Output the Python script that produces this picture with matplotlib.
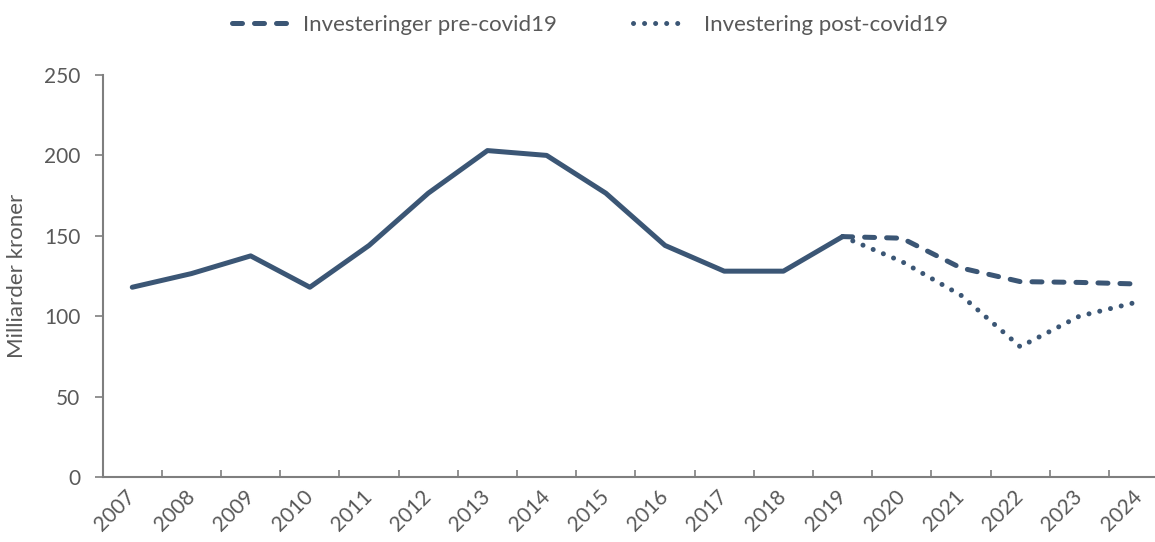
import numpy as np
import matplotlib.pyplot as plt

# data
years = [str(y) for y in range(2007, 2025)]
historisk = [118, 126.5, 137.5, 118, 144, 176.5, 203, 200, 176.5, 144, 128, 128, 149.5]
pre_covid = [149.5, 148.5, 130, 121.5, 121, 120]
post_covid = [149.5, 134, 113, 81, 100, 109]

colour = "#3b5675"
grey = "#595959"
plt.rcParams['font.family'] = ['Lato', 'DejaVu Sans']

fig = plt.figure(figsize=(11.55, 5.42), dpi=100)
# the plot area runs slightly past the right edge of the picture, as in the original
ax = fig.add_axes([0.0889, 0.120, 0.9225, 0.7416])

x = np.arange(len(years))
ax.plot(x[:len(historisk)], historisk, color=colour, lw=3.6, solid_capstyle='round',
        solid_joinstyle='round', clip_on=False)
xf = x[len(historisk) - 1:]
ax.plot(xf, pre_covid, color=colour, lw=3.6, linestyle=(0, (2.0, 2.4)),
        dash_capstyle='round', label='Investeringer pre-covid19')
ax.plot(xf, post_covid, color=colour, lw=3.6, linestyle=(0, (0.01, 2.2)),
        dash_capstyle='round', label='Investering post-covid19')

ax.set_xlim(-0.5, len(years) - 0.5)
ax.set_ylim(0, 250)
ax.set_yticks(range(0, 251, 50))

# category boundaries carry the tick marks, centres carry the labels
ax.set_xticks(np.arange(-0.5, len(years) + 0.5, 1))
ax.set_xticklabels([])
ax.tick_params(axis='x', which='major', direction='in', length=5, color='#7f7f7f', width=1.2)
ax.set_xticks(x, minor=True)
ax.set_xticklabels(years, minor=True, rotation=45)
ax.tick_params(axis='x', which='minor', length=0, pad=12, labelsize=15, labelcolor=grey)
for lbl in ax.get_xticklabels(minor=True):
    lbl.set_rotation_mode('anchor')
    lbl.set_ha('right')
    lbl.set_va('center')
ax.tick_params(axis='y', direction='out', length=6, color='#7f7f7f', width=1.2,
               labelsize=15, labelcolor=grey, pad=10)

for side in ['top', 'right']:
    ax.spines[side].set_visible(False)
for side in ['left', 'bottom']:
    ax.spines[side].set_color('#7f7f7f')
    ax.spines[side].set_linewidth(1.5)

ax.set_ylabel('Milliarder kroner', fontsize=16, color=grey, labelpad=12)

leg = fig.legend(loc='upper center', bbox_to_anchor=(0.511, 1.01), ncol=2, frameon=False,
                 fontsize=16, handlelength=2.45, handletextpad=0.75, columnspacing=3.4,
                 labelcolor=grey)

fig.savefig('out.png', dpi=100)
